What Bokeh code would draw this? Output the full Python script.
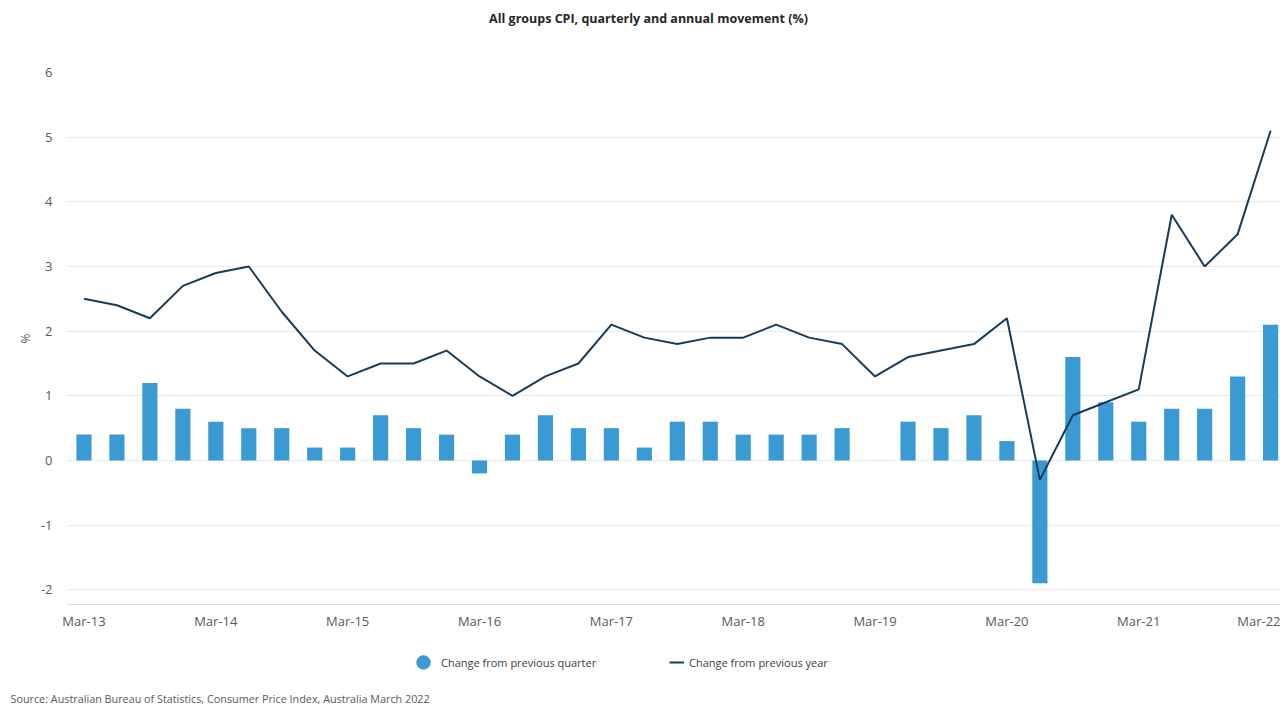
from bokeh.plotting import figure
from bokeh.layouts import column
from bokeh.models import Range1d, FixedTicker, Legend, LegendItem, Label, Title, ColumnDataSource
from bokeh.embed import file_html
from bokeh.resources import INLINE

quarters = [
    "Mar-13", "Jun-13", "Sep-13", "Dec-13",
    "Mar-14", "Jun-14", "Sep-14", "Dec-14",
    "Mar-15", "Jun-15", "Sep-15", "Dec-15",
    "Mar-16", "Jun-16", "Sep-16", "Dec-16",
    "Mar-17", "Jun-17", "Sep-17", "Dec-17",
    "Mar-18", "Jun-18", "Sep-18", "Dec-18",
    "Mar-19", "Jun-19", "Sep-19", "Dec-19",
    "Mar-20", "Jun-20", "Sep-20", "Dec-20",
    "Mar-21", "Jun-21", "Sep-21", "Dec-21",
    "Mar-22",
]
quarterly_change = [
    0.4, 0.4, 1.2, 0.8,
    0.6, 0.5, 0.5, 0.2,
    0.2, 0.7, 0.5, 0.4,
    -0.2, 0.4, 0.7, 0.5,
    0.5, 0.2, 0.6, 0.6,
    0.4, 0.4, 0.4, 0.5,
    0.0, 0.6, 0.5, 0.7,
    0.3, -1.9, 1.6, 0.9,
    0.6, 0.8, 0.8, 1.3,
    2.1,
]
annual_change = [
    2.5, 2.4, 2.2, 2.7,
    2.9, 3.0, 2.3, 1.7,
    1.3, 1.5, 1.5, 1.7,
    1.3, 1.0, 1.3, 1.5,
    2.1, 1.9, 1.8, 1.9,
    1.9, 2.1, 1.9, 1.8,
    1.3, 1.6, 1.7, 1.8,
    2.2, -0.3, 0.7, 0.9,
    1.1, 3.8, 3.0, 3.5,
    5.1,
]
x_tick_labels = ["Mar-13", "Mar-14", "Mar-15", "Mar-16", "Mar-17",
                 "Mar-18", "Mar-19", "Mar-20", "Mar-21", "Mar-22"]
y_ticks = [-2, -1, 0, 1, 2, 3, 4, 5, 6]

title_text = "All groups CPI, quarterly and annual movement (%)"
source_text = "Source: Australian Bureau of Statistics, Consumer Price Index, Australia March 2022"
series_names = ["Change from previous quarter", "Change from previous year"]

FONT = "Open Sans"
BAR_COLOR = "#3a9ad3"
LINE_COLOR = "#173b5b"
W = 1280
FRAME_LEFT = 66

# ---------------- title strip ----------------
p0 = figure(width=W, height=40, output_backend="svg", toolbar_location=None,
            x_range=Range1d(FRAME_LEFT, W), y_range=Range1d(0, 40),
            x_axis_location=None, y_axis_location=None,
            min_border=0, min_border_left=FRAME_LEFT,
            outline_line_color=None, border_fill_color="white")
p0.grid.visible = False
p0.add_layout(Label(x=648, y=22, text=title_text, text_font=FONT, text_font_size="12.5px",
                    text_font_style="bold", text_color="#262626",
                    text_align="center", text_baseline="middle"))

# ---------------- main chart ----------------
idx = list(range(len(quarters)))
src = ColumnDataSource(data=dict(x=idx, q=quarterly_change, a=annual_change, label=quarters))

p = figure(
    width=W, height=594,
    output_backend="svg", toolbar_location=None,
    x_range=Range1d(-0.53, 36.30), y_range=Range1d(-2.227, 6.0),
    min_border_left=FRAME_LEFT, min_border_right=0, min_border_top=32, min_border_bottom=30,
    outline_line_color=None, background_fill_color="white", border_fill_color="white",
)

p.vbar(x="x", top="q", bottom=0, width=0.46, source=src,
       fill_color=BAR_COLOR, line_color=None)
p.line(x="x", y="a", source=src, line_color=LINE_COLOR, line_width=2)

p.xgrid.visible = False
p.ygrid.grid_line_color = "#e8e8e8"
p.ygrid.grid_line_width = 1

p.yaxis.ticker = FixedTicker(ticks=y_ticks)
p.yaxis.major_label_overrides = {t: ("-%d" % abs(t) if t < 0 else str(t)) for t in y_ticks}
p.yaxis.axis_line_color = None
p.yaxis.major_tick_line_color = None
p.yaxis.minor_tick_line_color = None
p.yaxis.major_tick_out = 0
p.yaxis.major_tick_in = 0
p.yaxis.major_label_standoff = 14
p.yaxis.major_label_text_font = FONT
p.yaxis.major_label_text_font_size = "13px"
p.yaxis.major_label_text_color = "#595959"
p.yaxis.axis_label = "%"
p.yaxis.axis_label_text_font = FONT
p.yaxis.axis_label_text_font_size = "12px"
p.yaxis.axis_label_text_font_style = "normal"
p.yaxis.axis_label_text_color = "#595959"
p.yaxis.axis_label_standoff = 4

tick_pos = [quarters.index(t) for t in x_tick_labels]
p.xaxis.ticker = FixedTicker(ticks=tick_pos)
p.xaxis.major_label_overrides = {pos: lab for pos, lab in zip(tick_pos, x_tick_labels)}
p.xaxis.axis_line_color = "#d9d9d9"
p.xaxis.axis_line_width = 1
p.xaxis.major_tick_line_color = None
p.xaxis.minor_tick_line_color = None
p.xaxis.major_tick_out = 0
p.xaxis.major_tick_in = 0
p.xaxis.major_label_standoff = 7
p.xaxis.major_label_text_font = FONT
p.xaxis.major_label_text_font_size = "13px"
p.xaxis.major_label_text_color = "#595959"

# ---------------- legend + source strip ----------------
p2 = figure(width=W, height=86, output_backend="svg", toolbar_location=None,
            x_range=Range1d(FRAME_LEFT, W), y_range=Range1d(0, 56),
            x_axis_location=None, y_axis_location=None,
            min_border=0, min_border_left=FRAME_LEFT, min_border_bottom=30,
            outline_line_color=None, border_fill_color="white")
p2.grid.visible = False
# legend proxies (placed outside the visible range)
dot = p2.scatter(x=[-1000], y=[-1000], marker="circle", fill_color=BAR_COLOR, line_color=None)
seg = p2.line(x=[-1000, -999], y=[-1000, -1000], line_color=LINE_COLOR, line_width=2)

common = dict(border_line_color=None, background_fill_alpha=0, padding=0, margin=0,
              spacing=0, label_text_font=FONT, label_text_font_size="11px",
              label_text_color="#404040", orientation="horizontal")
leg1 = Legend(items=[LegendItem(label=series_names[0], renderers=[dot])],
              location=(405 - FRAME_LEFT, 10), glyph_width=36, glyph_height=36,
              label_standoff=0, **common)
leg2 = Legend(items=[LegendItem(label=series_names[1], renderers=[seg])],
              location=(669 - FRAME_LEFT, 10), glyph_width=15, glyph_height=36,
              label_standoff=5, **common)
p2.add_layout(leg1)
p2.add_layout(leg2)
p2.add_layout(Title(text=source_text, align="left", offset=10 - FRAME_LEFT,
                    vertical_align="top", standoff=0, text_font=FONT,
                    text_font_size="10.8px", text_font_style="normal",
                    text_color="#595959"), "below")

layout = column(p0, p, p2, spacing=0)
open("out.html", "w").write(file_html(layout, INLINE))
